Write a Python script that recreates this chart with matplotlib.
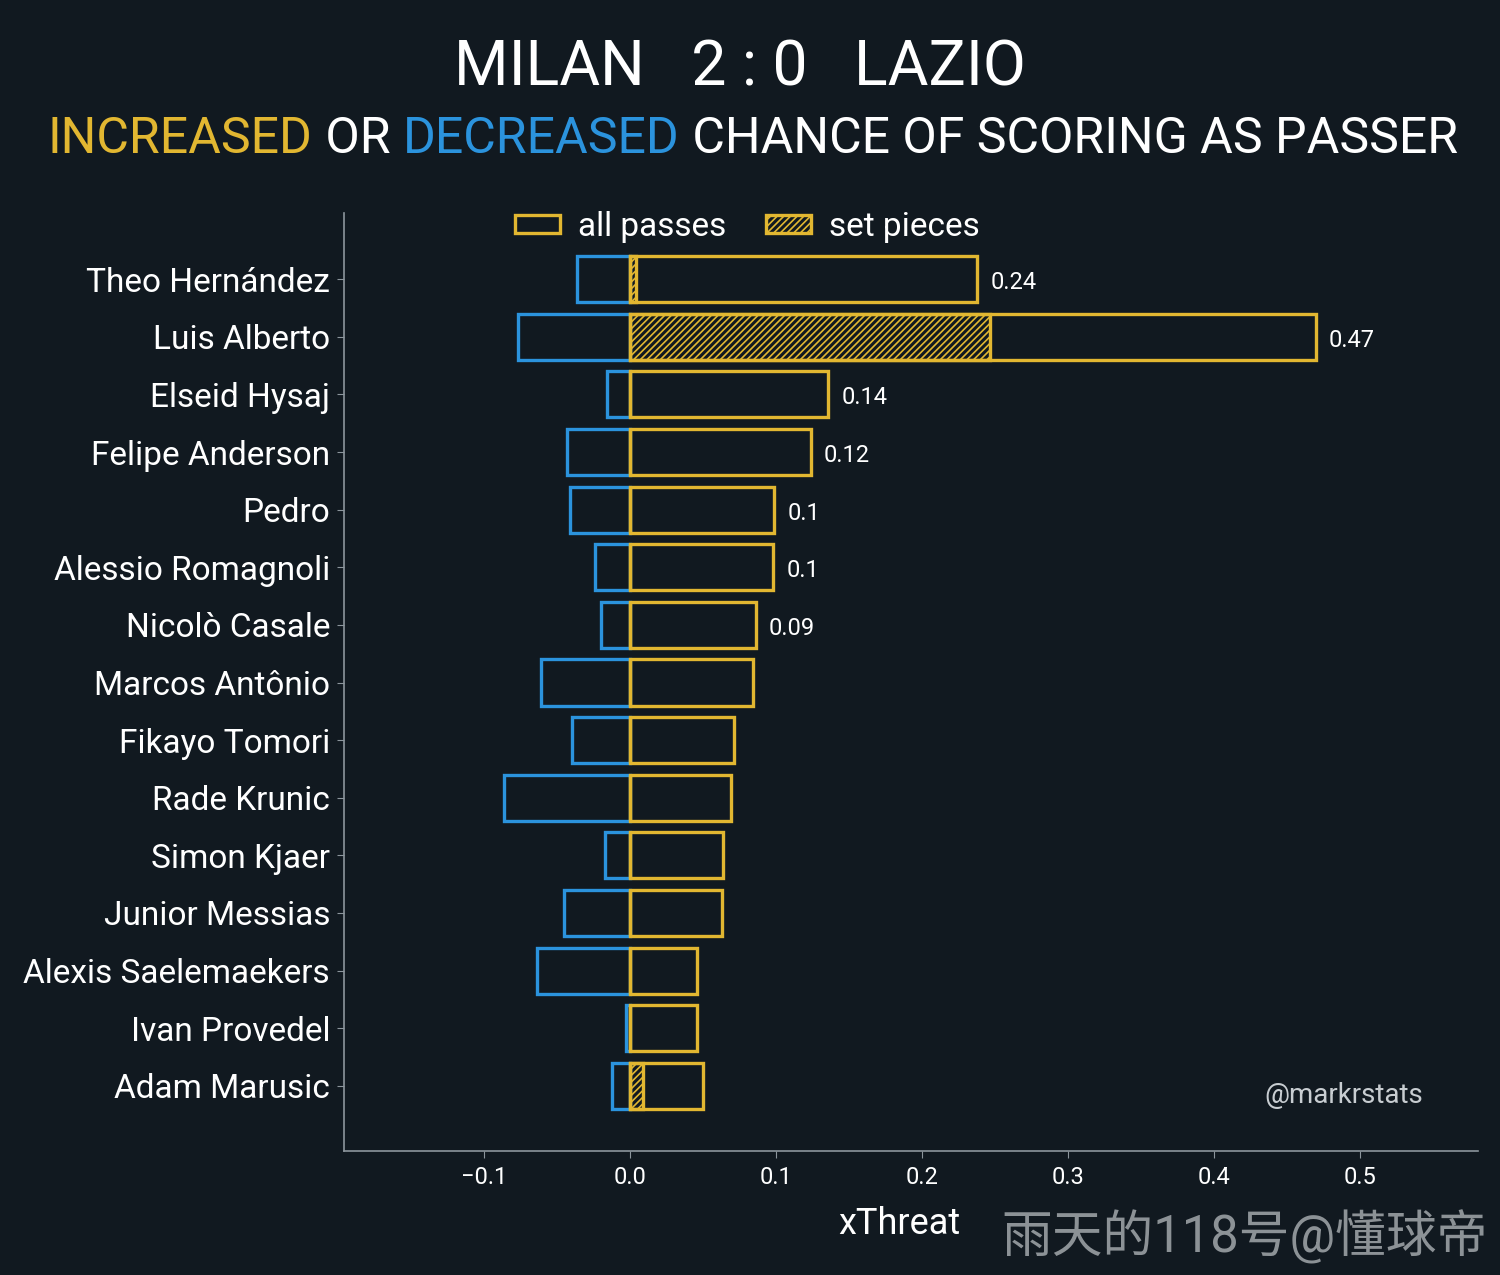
import matplotlib
matplotlib.use("Agg")
import matplotlib.pyplot as plt
from matplotlib.patches import Patch

players = [
    "Theo Hernández", "Luis Alberto", "Elseid Hysaj", "Felipe Anderson", "Pedro",
    "Alessio Romagnoli", "Nicolò Casale", "Marcos Antônio", "Fikayo Tomori",
    "Rade Krunic", "Simon Kjaer", "Junior Messias", "Alexis Saelemaekers",
    "Ivan Provedel", "Adam Marusic",
]
all_passes = [0.238, 0.470, 0.136, 0.124, 0.099, 0.098, 0.086, 0.084, 0.071,
              0.069, 0.064, 0.063, 0.046, 0.046, 0.050]
negative = [-0.036, -0.077, -0.016, -0.043, -0.041, -0.024, -0.020, -0.061,
            -0.040, -0.086, -0.017, -0.045, -0.064, -0.003, -0.012]
set_pieces = [0.004, 0.247, 0, 0, 0, 0, 0, 0, 0, 0, 0, 0, 0, 0, 0.009]
n_labelled = 7

BG = "#111920"
GOLD = "#e2b731"
BLUE = "#2b93dd"
GREY = "#8c959c"

plt.rcParams["font.family"] = ["Roboto", "Noto Sans CJK SC", "DejaVu Sans"]
plt.rcParams["hatch.linewidth"] = 1.2


def main():
    fig = plt.figure(figsize=(15, 12.75), dpi=100, facecolor=BG)
    ax = fig.add_axes([0.2293, 0.0973, 0.756, 0.7357], facecolor=BG)

    y = list(range(len(players)))
    ax.barh(y, negative, height=0.8, facecolor="none", edgecolor=BLUE, linewidth=2.4)
    ax.barh(y, set_pieces, height=0.8, facecolor="none", edgecolor=GOLD,
            linewidth=2.4, hatch="/////")
    ax.barh(y, all_passes, height=0.8, facecolor="none", edgecolor=GOLD, linewidth=2.4)

    for i in range(n_labelled):
        ax.text(all_passes[i] + 0.009, i + 0.06, f"{round(all_passes[i], 2):g}",
                color="white", fontsize=17, va="center", ha="left")

    ax.set_xlim(-0.196, 0.581)
    ax.set_ylim(15.13, -1.15)
    ax.set_yticks(y)
    ax.set_yticklabels(players)
    ax.set_xticks([-0.1, 0.0, 0.1, 0.2, 0.3, 0.4, 0.5])
    ax.tick_params(axis="y", colors=GREY, labelcolor="white", labelsize=24, length=5, pad=5)
    ax.tick_params(axis="x", colors=GREY, labelcolor="white", labelsize=17, length=5, pad=6)
    for side in ["top", "right"]:
        ax.spines[side].set_visible(False)
    for side in ["left", "bottom"]:
        ax.spines[side].set_color(GREY)
        ax.spines[side].set_linewidth(1.2)
    ax.set_xlabel("xThreat", color="white", fontsize=26, labelpad=12, x=0.49)

    handles = [
        Patch(facecolor="none", edgecolor=GOLD, linewidth=2.4, label="all passes"),
        Patch(facecolor="none", edgecolor=GOLD, linewidth=2.4, hatch="/////", label="set pieces"),
    ]
    leg = ax.legend(handles=handles, loc="upper center", bbox_to_anchor=(0.356, 1.034),
                    ncol=2, frameon=False, fontsize=24, handlelength=1.33,
                    handleheight=0.45, columnspacing=1.2, handletextpad=0.55)
    for t in leg.get_texts():
        t.set_color("white")

    ax.text(0.9515, 0.0586, "@markrstats", transform=ax.transAxes, color="#c8cdd1",
            fontsize=20, ha="right", va="center")

    fig.text(0.4933, 0.946, "MILAN   2 : 0   LAZIO", color="white", fontsize=45,
             ha="center", va="center")

    pieces = [("INCREASED", GOLD), (" OR ", "white"), ("DECREASED", BLUE),
              (" CHANCE OF SCORING AS PASSER", "white")]
    renderer = fig.canvas.get_renderer()
    x = 48 / 1500
    for txt, col in pieces:
        t = fig.text(x, 0.891, txt, color=col, fontsize=36, ha="left", va="center")
        bb = t.get_window_extent(renderer=renderer)
        x += bb.width / fig.bbox.width

    fig.text(0.992, 0.03, "雨天的118号@懂球帝", color="#a3a8ac", fontsize=36.5,
             ha="right", va="center", alpha=0.85)

    fig.savefig("out.png", dpi=100, facecolor=BG)


if __name__ == "__main__":
    main()
